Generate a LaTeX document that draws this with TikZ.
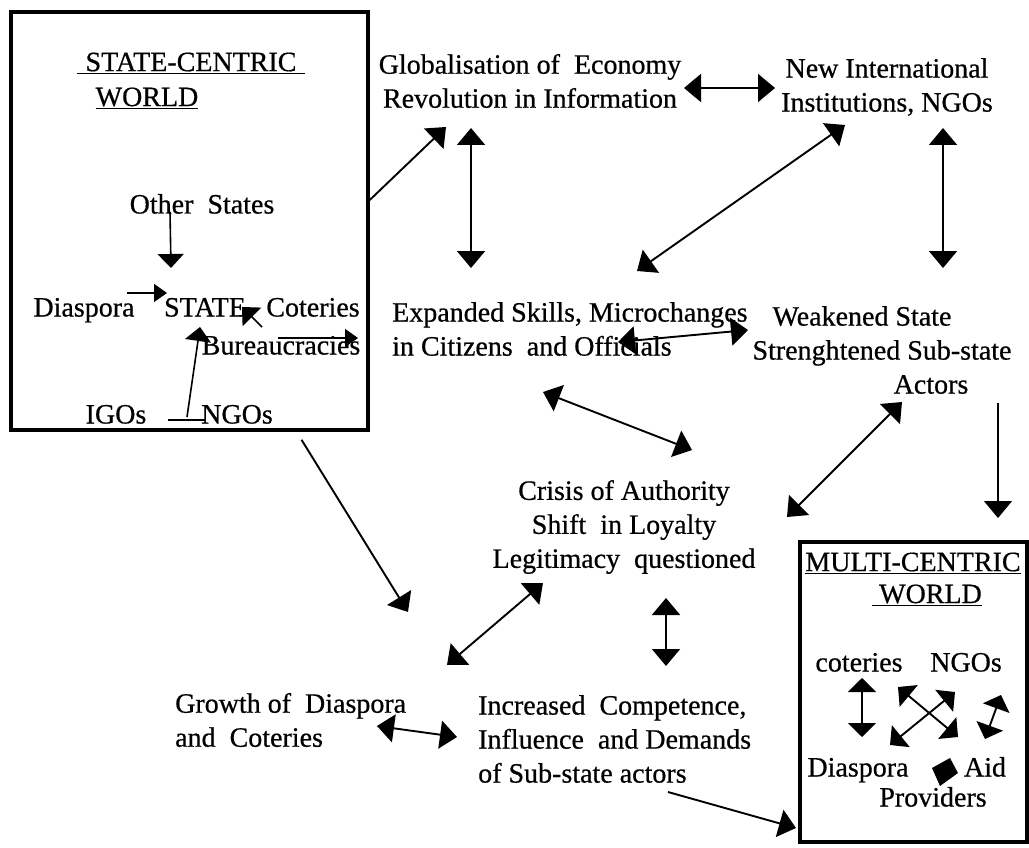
\documentclass[tikz,border=0pt]{standalone}
\usepackage{fontspec}
\setmainfont{Liberation Serif}[FakeBold=0.6]
\usetikzlibrary{arrows.meta}

\tikzset{
  lbl/.style={inner sep=0pt, font=\fontsize{28}{34}\selectfont},
  wrd/.style={lbl, text height=20pt, text depth=7pt},
  ttl/.style={inner sep=0pt, font=\fontsize{28}{32}\selectfont},
  world/.style={draw, line width=3.5pt, inner sep=0pt},
  arr/.style={line width=1.9pt, -{Triangle[width=28pt,length=17pt]}},
  dbl/.style={line width=1.9pt, {Triangle[width=28pt,length=17pt]}-{Triangle[width=28pt,length=17pt]}},
  mdbl/.style={line width=1.9pt, {Triangle[width=28pt,length=14pt]}-{Triangle[width=28pt,length=14pt]}},
  marr/.style={line width=1.6pt, -{Triangle[width=26pt,length=14pt]}},
  sarr/.style={line width=1.5pt, -{Triangle[width=18pt,length=13pt]}},
}

\begin{document}
\begin{tikzpicture}[x=1pt,y=-1pt]
\useasboundingbox (0,0) rectangle (1029,848);
\fill[white] (0,0) rectangle (1029,848);

% the two worlds
\node[world, minimum width=357pt, minimum height=418pt] (scw) at (189.5,221) {};
\node[world, minimum width=227pt, minimum height=300pt] (mcw) at (913.5,692) {};

% state-centric world
\node[ttl] (sct) at (191,63) {\underline{\hspace{9pt}STATE-CENTRIC\hspace{9pt}}};
\node[ttl] (scwld) at (147,98) {\underline{WORLD}};
\node[wrd] (oth) at (202,207) {Other\ \ States};
\node[wrd] (dia) at (84,310) {Diaspora};
\node[wrd] (sta) at (205,310) {STATE};
\node[wrd] (cot) at (313,310) {Coteries};
\node[wrd] (bur) at (281,348) {Bureaucracies};
\node[wrd] (igo) at (116,417) {IGOs};
\node[wrd] (ngo) at (237,417) {NGOs};

% the chain of changes
\node[lbl, align=center] (glb) at (530,81) {Globalisation of\ \ Economy\\Revolution in Information};
\node[lbl, align=center] (nwi) at (887,87) {New International\\Institutions, NGOs};
\node[lbl, align=left, anchor=west] (exs) at (392,329) {Expanded Skills, Microchanges\\in Citizens\ \ and Officials};
\node[lbl, align=center] (wks) at (882,350) {Weakened State\rule{40pt}{0pt}\\Strenghtened Sub-state\\\rule{98pt}{0pt}Actors};
\node[lbl, align=center] (cra) at (624,527) {Crisis of Authority\\Shift\ \ in Loyalty\\Legitimacy\ \ questioned};
\node[lbl, align=left, anchor=west] (gro) at (175,720) {Growth of\ \ Diaspora\\and\ \ Coteries};
\node[lbl, align=left, anchor=west] (inc) at (478,739) {Increased\ \ Competence,\\Influence\ \ and Demands\\of Sub-state actors};

% multi-centric world
\node[ttl] (mct) at (913,563) {\underline{MULTI-CENTRIC}};
\node[ttl] (mcwld) at (927,595) {\underline{\ WORLD}};
\node[wrd] (mco) at (859,665) {coteries};
\node[wrd] (mng) at (966,665) {NGOs};
\node[wrd] (mdi) at (858,770) {Diaspora};
\node[wrd] (mai) at (985,770) {Aid};
\node[wrd] (mpr) at (933,800) {Providers};

% arrow ends
\coordinate (glbin) at (446,127);
\coordinate (glbe) at (684,88);   \coordinate (nwiw) at (775,88);
\coordinate (glbs) at (471,128);  \coordinate (exsn) at (471,268);
\coordinate (nwisw) at (845,125); \coordinate (exsne) at (637,271);
\coordinate (nwis) at (943,128);  \coordinate (wksn) at (943,268);
\coordinate (exse) at (618,342);  \coordinate (wksw) at (748,330);
\coordinate (exss) at (543,392);  \coordinate (cranw) at (692,450);
\coordinate (wkssw) at (902,402); \coordinate (crane) at (787,517);
\coordinate (wkss) at (998,403);  \coordinate (mcwn) at (998,518);
\coordinate (groin) at (408,612);
\coordinate (crasw) at (543,583); \coordinate (grone) at (447,665);
\coordinate (cras) at (666,598);  \coordinate (incn) at (666,666);
\coordinate (groe) at (377,726);  \coordinate (incw) at (457,737);
\coordinate (incse) at (668,792); \coordinate (mcww) at (796,828);

\draw[arr] ([yshift=21pt]scw.east) -- (glbin);
\draw[arr] ([xshift=112pt,yshift=-8pt]scw.south) -- (groin);
\draw[dbl] (glbe) -- (nwiw);
\draw[dbl] (glbs) -- (exsn);
\draw[dbl] (nwisw) -- (exsne);
\draw[dbl] (nwis) -- (wksn);
\draw[dbl] (exse) -- (wksw);
\draw[dbl] (exss) -- (cranw);
\draw[dbl] (wkssw) -- (crane);
\draw[arr, line width=1.2pt] (wkss) -- (mcwn);
\draw[dbl] (crasw) -- (grone);
\draw[dbl] (cras) -- (incn);
\draw[dbl] (groe) -- (incw);
\draw[arr] (incse) -- (mcww);

% inside the state-centric world
\draw[marr] (170,212) -- (171,268);
\draw[sarr] (127,293) -- (167,293);
\draw[marr] (262,327) -- (242,307);
\draw[sarr] (278,338) -- (358,338);
\draw[marr] (187,417) -- (200,327);
\draw[line width=1.5pt] (168,420) -- (205,420);

% inside the multi-centric world
\draw[mdbl] (862,678) -- (862,737);
\draw[mdbl] (898,687) -- (958,737);
\draw[mdbl] (955,692) -- (890,745);
\draw[mdbl] (1001,695) -- (985,739);
\fill (950,758) -- (958,773) -- (940,786) -- (932,768) -- cycle;
\end{tikzpicture}
\end{document}
